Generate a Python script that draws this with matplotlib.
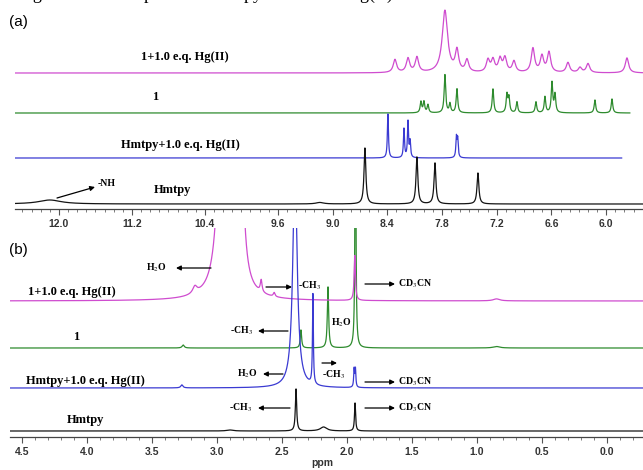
import matplotlib.pyplot as plt
import numpy as np
from matplotlib.patches import FancyArrowPatch
from matplotlib.ticker import FixedLocator, MultipleLocator, FormatStrFormatter

plt.rcParams['mathtext.fontset'] = 'stix'

W, H = 643, 470

# ---------------- panel (a): aromatic region ----------------
a_ticks = [12.0, 11.2, 10.4, 9.6, 9.0, 8.4, 7.8, 7.2, 6.6, 6.0]

pink_a_ppm = [8.316, 8.173, 8.075, 7.768, 7.636, 7.526, 7.296, 7.241, 7.164,
              7.110, 7.011, 6.803, 6.704, 6.627, 6.419, 6.287, 6.199, 5.772]
pink_a_int = [13, 14, 15, 62, 21, 12, 12, 12, 13, 14, 11, 24, 16, 20, 10, 5, 9, 15]
pink_a_w = [0.022] * 3 + [0.035] + [0.022] * 14

green_a_ppm = [8.031, 7.998, 7.954, 7.768, 7.713, 7.636, 7.241, 7.088, 7.066,
               6.978, 6.770, 6.671, 6.594, 6.561, 6.123, 5.936]
green_a_int = [11, 11, 8, 38, 9, 24, 24, 18, 15, 11, 11, 16, 30, 18, 13, 14]
green_a_w = [0.01] * 16

blue_a_ppm = [8.393, 8.217, 8.173, 8.150, 7.642, 7.628]
blue_a_int = [44, 29, 36, 16, 20, 18]
blue_a_w = [0.007] * 6

black_a_ppm = [12.10, 9.14, 8.645, 8.075, 7.877, 7.406]
black_a_int = [4, 1.5, 56, 47, 41, 31]
black_a_w = [0.15, 0.05, 0.012, 0.012, 0.012, 0.012]

# ---------------- panel (b): aliphatic region ----------------
pink_b_ppm = [3.17, 2.95, 2.83, 2.66, 2.56, 1.94, 0.85]
pink_b_int = [7, 400, 400, 12, 4, 45, 2]
pink_b_w = [0.02, 0.03, 0.02, 0.008, 0.008, 0.006, 0.03]

green_b_ppm = [3.26, 2.354, 2.146, 1.935, 0.85]
green_b_int = [3, 18, 61, 300, 1.5]
green_b_w = [0.01, 0.006, 0.006, 0.004, 0.03]

blue_b_ppm = [3.27, 2.40, 2.262, 1.945, 1.935]
blue_b_int = [3, 220, 90, 18, 18]
blue_b_w = [0.01, 0.02, 0.004, 0.004, 0.004]

black_b_ppm = [2.90, 2.392, 2.18, 1.938]
black_b_int = [1, 42, 4, 28]
black_b_w = [0.03, 0.006, 0.03, 0.005]

PINK, GREEN, BLUE, BLACK = '#cf4ccf', '#2e8b2e', '#3a3ad2', '#141414'


def spectrum(x, ppm, inten, width):
    y = np.zeros_like(x)
    for p, h, g in zip(ppm, inten, width):
        y += h * g ** 2 / ((x - p) ** 2 + g ** 2)
    return y


def px(x, y):
    return x / W, 1 - y / H


def style_axis(ax):
    for s in ['top', 'left', 'right']:
        ax.spines[s].set_visible(False)
    ax.spines['bottom'].set_color('#444444')
    ax.spines['bottom'].set_linewidth(0.9)
    ax.set_yticks([])
    ax.patch.set_alpha(0)
    ax.tick_params(axis='x', which='major', length=4, width=0.8, color='#555555',
                   labelsize=7.5, labelcolor='#333333', pad=3)
    ax.tick_params(axis='x', which='minor', length=2.5, width=0.6, color='#666666')
    for lab in ax.get_xticklabels():
        lab.set_fontweight('bold')
        lab.set_family('Liberation Sans')


fig = plt.figure(figsize=(W / 100, H / 100), dpi=100)

# panel (a)
ax_a = fig.add_axes([15 / W, 1 - 209 / H, 628 / W, 209 / H])
xa = np.linspace(12.482, 5.596, 8000)
ax_a.plot(xa, 136 + spectrum(xa, pink_a_ppm, pink_a_int, pink_a_w), color=PINK, lw=0.9, zorder=2)
xg = xa[xa >= 5.74]
ax_a.plot(xg, 96 + spectrum(xg, green_a_ppm, green_a_int, green_a_w), color=GREEN, lw=0.9, zorder=3)
xb = xa[xa >= 5.83]
ax_a.plot(xb, 51 + spectrum(xb, blue_a_ppm, blue_a_int, blue_a_w), color=BLUE, lw=0.9, zorder=4)
ax_a.plot(xa, 5 + spectrum(xa, black_a_ppm, black_a_int, black_a_w), color=BLACK, lw=0.9, zorder=5)
ax_a.set_xlim(12.482, 5.596)
ax_a.set_ylim(0, 209)
ax_a.xaxis.set_major_locator(FixedLocator(a_ticks))
ax_a.xaxis.set_minor_locator(MultipleLocator(0.1))
ax_a.xaxis.set_major_formatter(FormatStrFormatter('%.1f'))
style_axis(ax_a)

# panel (b)
ax_b = fig.add_axes([10 / W, 1 - 437 / H, 633 / W, 209 / H])
xx = np.linspace(4.592, -0.277, 10000)
ax_b.plot(xx, 136 + spectrum(xx, pink_b_ppm, pink_b_int, pink_b_w), color=PINK, lw=0.9, zorder=3)
ax_b.plot(xx, 89 + spectrum(xx, green_b_ppm, green_b_int, green_b_w), color=GREEN, lw=0.9, zorder=2)
ax_b.plot(xx, 49 + spectrum(xx, blue_b_ppm, blue_b_int, blue_b_w), color=BLUE, lw=0.9, zorder=4)
ax_b.plot(xx, 6 + spectrum(xx, black_b_ppm, black_b_int, black_b_w), color=BLACK, lw=0.9, zorder=5)
ax_b.set_xlim(4.592, -0.277)
ax_b.set_ylim(0, 209)
ax_b.xaxis.set_major_locator(MultipleLocator(0.5))
ax_b.xaxis.set_minor_locator(MultipleLocator(0.1))
ax_b.xaxis.set_major_formatter(FormatStrFormatter('%.1f'))
style_axis(ax_b)

# ---------------- text ----------------
serif = 'Liberation Serif'
# caption of the page, cut by the top edge as in the source
fig.text(*px(18, -6), 'Fig. 5  \u00b9H NMR spectra of Hmtpy and 1 with Hg(II)',
         family=serif, fontsize=13, va='center', ha='left')
fig.text(*px(9, 22), '(a)', family='Liberation Sans', fontsize=11, va='center')
fig.text(*px(9, 250), '(b)', family='Liberation Sans', fontsize=11, va='center')
fig.text(*px(322, 463), 'ppm', family='Liberation Sans', fontsize=7.5,
         fontweight='bold', color='#333333', ha='center', va='center')

lab = dict(family=serif, fontsize=9, fontweight='bold', ha='center', va='center')
fig.text(*px(185, 57), '1+1.0 e.q. Hg(II)', **lab)
fig.text(*px(155, 97), '1', **lab)
fig.text(*px(180, 145), 'Hmtpy+1.0 e.q. Hg(II)', **lab)
fig.text(*px(172, 190), 'Hmtpy', **lab)

fig.text(*px(72, 292), '1+1.0 e.q. Hg(II)', **lab)
fig.text(*px(76, 337), '1', **lab)
fig.text(*px(85, 381), 'Hmtpy+1.0 e.q. Hg(II)', **lab)
fig.text(*px(85, 420), 'Hmtpy', **lab)

small = dict(family=serif, fontsize=7, fontweight='bold', va='center')
arrow = dict(arrowstyle='-|>', color='black', lw=0.9, mutation_scale=7,
             shrinkA=0, shrinkB=0)


def arr(x0, y0, x1, y1):
    fig.add_artist(FancyArrowPatch(px(x0, y0), px(x1, y1),
                                   transform=fig.transFigure, **arrow))


# -NH
fig.text(*px(98, 184), '-NH', ha='left', **small)
arr(57, 198, 95, 187)

# pink (b)
fig.text(*px(156, 268), r'H$_2$O', ha='center', **small)
arr(211, 268, 176, 268)
arr(266, 287, 292, 287)
fig.text(*px(309, 286), r'-CH$_3$', ha='center', **small)
arr(365, 284, 395, 284)
fig.text(*px(398, 284), r'CD$_3$CN', ha='left', **small)

# green (b)
fig.text(*px(241, 331), r'-CH$_3$', ha='center', **small)
arr(288, 331, 258, 331)
fig.text(*px(341, 323), r'H$_2$O', ha='center', **small)

# blue (b)
fig.text(*px(247, 374), r'H$_2$O', ha='center', **small)
arr(283, 374, 263, 374)
arr(322, 363, 337, 363)
fig.text(*px(333, 375), r'-CH$_3$', ha='center', **small)
arr(365, 382, 395, 382)
fig.text(*px(398, 382), r'CD$_3$CN', ha='left', **small)

# black (b)
fig.text(*px(240, 408), r'-CH$_3$', ha='center', **small)
arr(290, 408, 258, 408)
arr(365, 408, 395, 408)
fig.text(*px(398, 408), r'CD$_3$CN', ha='left', **small)

fig.savefig('out.png', dpi=100)
